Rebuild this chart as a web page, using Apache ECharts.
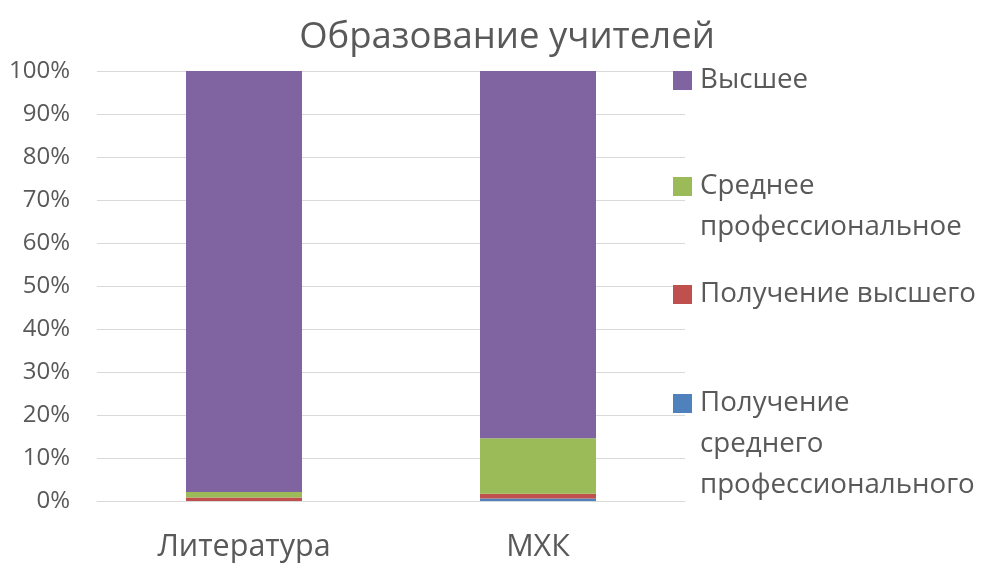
<!DOCTYPE html>
<html>
<head>
<meta charset="utf-8">
<script src="https://cdn.jsdelivr.net/npm/echarts@6/dist/echarts.min.js"></script>
<style>
  html, body { margin: 0; padding: 0; background: #fff; }
  #main { width: 985px; height: 564px; }
</style>
</head>
<body>
<div id="main"></div>
<script>
// данные графика (проценты, стек снизу вверх)
const categories = ['Литература', 'МХК']
const seriesNames = ['Получение среднего профессионального', 'Получение высшего', 'Среднее профессиональное', 'Высшее']
const polSrednego = [0, 0.6]
const polVysshego = [0.8, 1.1]
const srednee = [1.3, 12.9]
const vysshee = [97.9, 85.4]
const yTicks = [0, 10, 20, 30, 40, 50, 60, 70, 80, 90, 100]

const colors = ['#4F81BD', '#C0504D', '#9BBB59', '#8064A2']
const values = [polSrednego, polVysshego, srednee, vysshee]
const textColor = '#595959'
const font = 'Open Sans'

const myChart = echarts.init(document.getElementById('main'))

// легенды: отдельная для каждого пункта, чтобы повторить расположение
// пустые строки сверху, чтобы маркер стоял напротив первой строки
const legendText = {
  'Высшее': 'Высшее',
  'Среднее профессиональное': '\nСреднее\nпрофессиональное',
  'Получение высшего': 'Получение высшего',
  'Получение среднего профессионального': '\n\nПолучение\nсреднего\nпрофессионального'
}
const legendItems = [
  { name: 'Высшее', top: 60 },
  { name: 'Среднее профессиональное', top: 125 },
  { name: 'Получение высшего', top: 274 },
  { name: 'Получение среднего профессионального', top: 301 }
]
const legends = legendItems.map(item => ({
  data: [item.name],
  orient: 'vertical',
  left: 673,
  top: item.top,
  padding: 0,
  itemWidth: 19,
  itemHeight: 19,
  itemGap: 0,
  icon: 'rect',
  selectedMode: false,
  formatter: name => legendText[name],
  textStyle: {
    color: textColor,
    fontFamily: font,
    fontSize: 27.7,
    lineHeight: 41,
    padding: [0, 0, 0, 3]
  }
}))

const option = {
  animation: false,
  title: {
    text: 'Образование учителей',
    left: 502,
    textAlign: 'center',
    top: 14,
    textStyle: { color: textColor, fontFamily: font, fontSize: 36.5, fontWeight: 'normal' }
  },
  legend: legends,
  grid: { left: 97, right: 300, top: 71, bottom: 63, containLabel: false, outerBoundsMode: 'none' },
  xAxis: {
    type: 'category',
    data: categories,
    axisLine: { lineStyle: { color: '#d9d9d9', width: 1 } },
    axisTick: { show: false },
    axisLabel: { color: textColor, fontFamily: font, fontSize: 30.5, margin: 31 }
  },
  yAxis: {
    type: 'value',
    min: yTicks[0],
    max: yTicks[yTicks.length - 1],
    interval: 10,
    axisLine: { show: false },
    axisTick: { show: false },
    splitLine: { lineStyle: { color: '#d9d9d9', width: 1 } },
    axisLabel: { color: textColor, fontFamily: font, fontSize: 24, margin: 27, formatter: '{value}%' }
  },
  series: seriesNames.map((name, i) => ({
    name: name,
    type: 'bar',
    stack: 'total',
    barWidth: 116,
    data: values[i],
    itemStyle: { color: colors[i] }
  }))
}
myChart.setOption(option)
</script>
</body>
</html>
